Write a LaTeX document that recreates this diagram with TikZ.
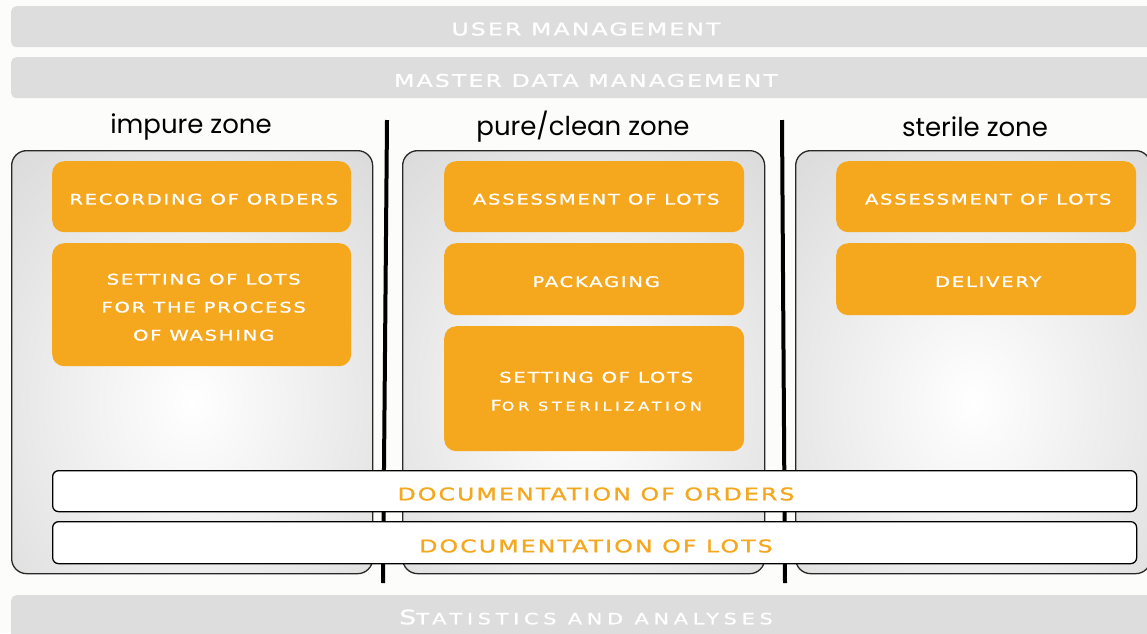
\documentclass[tikz,border=0pt]{standalone}
\usepackage{fontspec}
\setmainfont{DejaVu Sans}
\newfontfamily\capsfont[FakeStretch=1.35, FakeBold=1.2, LetterSpace=12]{DejaVu Sans}
\newfontfamily\widecapsfont[FakeStretch=1.35, FakeBold=1.2, LetterSpace=30]{DejaVu Sans}
\newfontfamily\zonefont{Poppins}
\usetikzlibrary{calc}

\definecolor{pagebg}{RGB}{252,252,250}
\definecolor{bargray}{RGB}{221,221,221}
\definecolor{zonegray}{RGB}{218,218,218}
\definecolor{zoneline}{RGB}{40,40,40}
\definecolor{taskorange}{RGB}{245,167,30}

\tikzset{
  bandbar/.style={fill=bargray, rounded corners=5, inner sep=0pt, anchor=north west,
    minimum width=1150, minimum height=41},
  bandtext/.style={text=white, inner sep=0pt, font=\capsfont\fontsize{17.5}{20}\selectfont},
  zonebox/.style={draw=zoneline, line width=1.3pt, fill=zonegray, rounded corners=15,
    anchor=north west, inner sep=0pt, minimum height=423,
    path picture={\shade[inner color=white, outer color=zonegray]
      ($(path picture bounding box.center)+(0,40)$) ellipse [x radius=280, y radius=340];}},
  zonetitle/.style={inner sep=0pt, font=\zonefont\fontsize{26}{30}\selectfont},
  taskbox/.style={fill=taskorange, rounded corners=12, anchor=north west, inner sep=0pt,
    minimum width=300},
  tasktext/.style={text=white, align=center, inner sep=0pt,
    font=\capsfont\fontsize{14.5}{28}\selectfont},
  docbar/.style={draw=black, line width=1.3pt, fill=white, rounded corners=6,
    anchor=north west, inner sep=0pt, minimum width=1084},
  doctext/.style={text=taskorange, inner sep=0pt, font=\capsfont\fontsize{17.5}{20}\selectfont},
  divider/.style={line width=4pt, black}
}

\begin{document}
\begin{tikzpicture}[x=1pt, y=-1pt]
\useasboundingbox (0,0) rectangle (1147,633);
\fill[pagebg] (0,0) rectangle (1147,633);
\begin{scope}
\clip (0,0) rectangle (1147,633);

% horizontal service bands
\node[bandbar] (userbar) at (11,6) {};
\node[bandtext] (usertext) at (586,29) {USER MANAGEMENT};
\node[bandbar] (masterbar) at (11,57) {};
\node[bandtext] (mastertext) at (586,80.5) {MASTER DATA MANAGEMENT};
\node[bandbar, minimum height=50] (statbar) at (11,595) {};
\node[bandtext] (stattext) at (586,617)
  {{\widecapsfont\fontsize{20}{20}\selectfont S}{\widecapsfont\fontsize{15.5}{20}\selectfont TATISTICS AND ANALYSES}};

% zone titles
\node[zonetitle] (impuretitle) at (191,127) {impure zone};
\node[zonetitle] (puretitle) at (583,127) {pure/clean zone};
\node[zonetitle] (steriletitle) at (975,127) {sterile zone};

% zone panels
\node[zonebox, minimum width=361] (impure) at (11,150) {};
\node[zonebox, minimum width=362] (pure) at (402,150) {};
\node[zonebox, minimum width=355] (sterile) at (795,150) {};

% zone separators
\draw[divider] (387,120) -- (383,583);
\draw[divider] (782,120) -- (785,583);

% impure zone tasks
\node[taskbox, minimum width=299, minimum height=71] (recording) at (52,161) {};
\node[tasktext] (recordingtext) at ([xshift=2pt,yshift=-2.5pt]recording.center) {RECORDING OF ORDERS};
\node[taskbox, minimum width=299, minimum height=123] (washing) at (52,243) {};
\node[tasktext] (washingtext) at ([xshift=2pt,yshift=-2.5pt]washing.center)
  {SETTING OF LOTS\\FOR THE PROCESS\\OF WASHING};

% pure/clean zone tasks
\node[taskbox, minimum height=71] (assesspure) at (444,161) {};
\node[tasktext] (assesspuretext) at ([xshift=2pt,yshift=-2.5pt]assesspure.center) {ASSESSMENT OF LOTS};
\node[taskbox, minimum height=72] (packaging) at (444,243) {};
\node[tasktext] (packagingtext) at ([xshift=2pt,yshift=-2.5pt]packaging.center) {PACKAGING};
\node[taskbox, minimum height=125] (sterilization) at (444,326) {};
\node[tasktext] (sterilizationtext) at ([xshift=2pt,yshift=-2.5pt]sterilization.center)
  {SETTING OF LOTS\\{\widecapsfont\fontsize{14.5}{28}\selectfont F}{\widecapsfont\fontsize{12}{28}\selectfont OR STERILIZATION}};

% sterile zone tasks
\node[taskbox, minimum height=71] (assesssterile) at (836,161) {};
\node[tasktext] (assesssteriletext) at ([xshift=2pt,yshift=-2.5pt]assesssterile.center) {ASSESSMENT OF LOTS};
\node[taskbox, minimum height=72] (delivery) at (836,243) {};
\node[tasktext] (deliverytext) at ([xshift=2pt,yshift=-2.5pt]delivery.center) {DELIVERY};

% documentation bars spanning all zones
\node[docbar, minimum height=41] (docorders) at (52,470) {};
\node[doctext] (docorderstext) at (596,494) {DOCUMENTATION OF ORDERS};
\node[docbar, minimum height=42] (doclots) at (52,521) {};
\node[doctext] (doclotstext) at (596,546) {DOCUMENTATION OF LOTS};
\end{scope}
\end{tikzpicture}
\end{document}
